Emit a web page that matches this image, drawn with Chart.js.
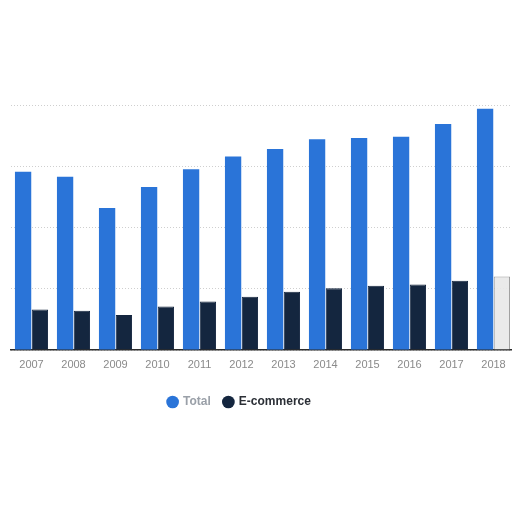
<!DOCTYPE html>
<html>
<head>
<meta charset="utf-8">
<script src="https://cdn.jsdelivr.net/npm/chart.js@4/dist/chart.umd.min.js"></script>
<style>
  html, body { margin: 0; padding: 0; background: #ffffff; overflow: hidden; }
  #wrap { position: absolute; left: 0; top: 0; width: 516px; height: 512px; }
</style>
</head>
<body>
<div id="wrap"><canvas id="c"></canvas></div>
<script>
const categories = ['2007','2008','2009','2010','2011','2012','2013','2014','2015','2016','2017','2018'];
const totalValues = [2.91, 2.83, 2.32, 2.66, 2.95, 3.16, 3.28, 3.44, 3.46, 3.48, 3.69, 3.94];
const ecommerceValues = [0.66, 0.64, 0.57, 0.71, 0.79, 0.87, 0.95, 1.01, 1.05, 1.07, 1.13, 1.20];
const seriesNames = ['Total', 'E-commerce'];

const blue = '#2a74d8';
const navy = '#14263f';
const ecoFill = ecommerceValues.map((v, i) => i === ecommerceValues.length - 1 ? 'rgba(232,232,232,0.9)' : navy);
const ecoBorder = ecommerceValues.map((v, i) => i === ecommerceValues.length - 1 ? '#9a9a9a' : navy);

const shiftLegend = {
  id: 'shiftLegend',
  afterLayout(chart) {
    const lg = chart.legend;
    if (lg) { lg.left -= 23; lg.right -= 23; }
  }
};

new Chart(document.getElementById('c'), {
  type: 'bar',
  data: {
    labels: categories,
    datasets: [
      { label: seriesNames[0], data: totalValues, backgroundColor: blue, borderWidth: 0,
        categoryPercentage: 0.8, barPercentage: 0.97 },
      { label: seriesNames[1], data: ecommerceValues, backgroundColor: ecoFill, borderColor: ecoBorder,
        borderWidth: 1, categoryPercentage: 0.8, barPercentage: 0.97 }
    ]
  },
  plugins: [shiftLegend],
  options: {
    responsive: true,
    maintainAspectRatio: false,
    animation: false,
    layout: { padding: { left: 10.5, right: 1.5, top: 105, bottom: 94 } },
    scales: {
      x: {
        grid: { display: false },
        border: { display: true, color: '#2b2b2b', width: 1.5 },
        ticks: { color: '#8a8a8a', font: { family: 'Liberation Sans', size: 11 }, padding: 0, maxRotation: 0 },
        afterFit(scale) { scale.height = 33; }
      },
      y: {
        min: 0, max: 4,
        ticks: { display: false, stepSize: 1 },
        border: { display: false, dash: [1, 2] },
        grid: { color: '#cfcfcf', lineWidth: 1, drawTicks: false }
      }
    },
    plugins: {
      tooltip: { enabled: false },
      legend: {
        position: 'bottom',
        labels: {
          usePointStyle: true,
          pointStyle: 'circle',
          boxWidth: 9,
          boxHeight: 9,
          padding: 13,
          font: { family: 'Liberation Sans', size: 12, weight: 'bold' },
          generateLabels(chart) {
            const items = Chart.defaults.plugins.legend.labels.generateLabels(chart);
            items.forEach((it, i) => {
              it.fillStyle = i === 0 ? blue : navy;
              it.strokeStyle = i === 0 ? blue : navy;
              it.fontColor = i === 0 ? '#9aa0a8' : '#2b2f36';
              it.lineWidth = 0;
            });
            return items;
          }
        }
      }
    }
  }
});
</script>
</body>
</html>
